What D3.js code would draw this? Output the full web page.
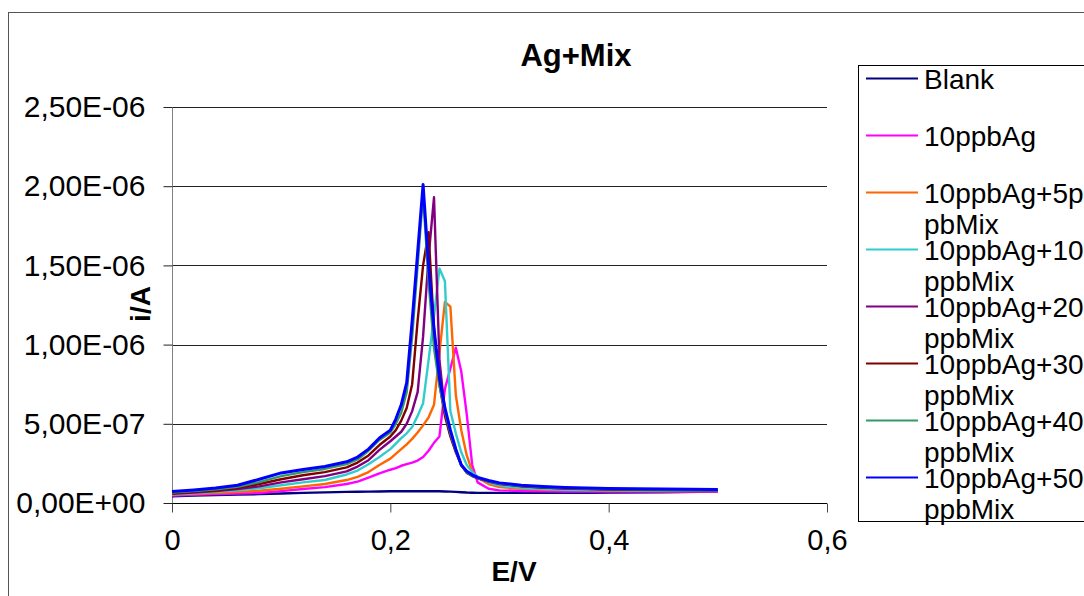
<!DOCTYPE html>
<html>
<head>
<meta charset="utf-8">
<script src="https://cdn.jsdelivr.net/npm/d3@7"></script>
<style>
  html, body { margin: 0; padding: 0; background: #fff; }
  svg { display: block; }
  text { font-family: "Liberation Sans", Arial, sans-serif; fill: #000; }
</style>
</head>
<body>
<svg id="chart" width="1084" height="596"></svg>
<script>
// Potential E/V (shared by every series)
const potentials = [0, 0.02, 0.04, 0.06, 0.08, 0.10, 0.12, 0.14, 0.16, 0.17, 0.18, 0.19, 0.20, 0.205, 0.21, 0.215, 0.22, 0.225, 0.23, 0.235, 0.24, 0.245, 0.25, 0.255, 0.26, 0.265, 0.27, 0.275, 0.28, 0.29, 0.30, 0.32, 0.34, 0.36, 0.38, 0.40, 0.45, 0.50];

// Currents i/A, expressed in units of 1e-7 A
const currentUnit = 1e-7;
const blank      = [0.43,0.47,0.5,0.53,0.56,0.6,0.64,0.67,0.7,0.71,0.72,0.73,0.74,0.74,0.74,0.74,0.74,0.74,0.74,0.74,0.74,0.74,0.73,0.72,0.7,0.68,0.66,0.65,0.64,0.64,0.64,0.64,0.64,0.64,0.65,0.66,0.68,0.72];
const ag10       = [0.47,0.52,0.56,0.6,0.63,0.75,0.88,1.0,1.2,1.35,1.6,1.87,2.1,2.2,2.35,2.45,2.55,2.68,2.9,3.3,3.8,4.2,7.2,8.5,9.8,8.3,5.6,2.4,1.3,0.9,0.8,0.76,0.74,0.73,0.72,0.72,0.72,0.72];
const ag10mix5   = [0.52,0.58,0.63,0.7,0.77,0.9,1.05,1.2,1.45,1.65,1.95,2.4,2.8,3.1,3.4,3.7,4.05,4.45,4.9,5.4,6.2,9.5,12.7,12.4,6.8,4.6,3.0,2.0,1.6,1.2,1.0,0.9,0.85,0.82,0.8,0.78,0.76,0.75];
const ag10mix10  = [0.55,0.62,0.7,0.8,0.93,1.12,1.3,1.45,1.8,2.05,2.45,2.9,3.4,3.75,4.1,4.4,4.8,5.5,6.3,9.0,11.8,14.8,14.0,5.8,4.4,3.2,2.4,1.95,1.65,1.3,1.1,0.95,0.88,0.84,0.82,0.8,0.78,0.77];
const ag10mix20  = [0.58,0.66,0.76,0.88,1.05,1.3,1.5,1.7,2.0,2.3,2.7,3.35,3.9,4.2,4.5,5.0,5.8,7.0,10.5,15.5,19.3,9.0,5.8,4.3,3.3,2.4,1.9,1.7,1.55,1.35,1.2,1.05,0.97,0.92,0.88,0.85,0.82,0.8];
const ag10mix30  = [0.62,0.7,0.8,0.95,1.2,1.5,1.75,1.95,2.25,2.55,3.0,3.66,4.2,4.6,5.2,6.0,7.5,11.5,15.0,17.1,11.0,7.5,5.5,4.2,3.2,2.4,1.95,1.72,1.58,1.38,1.22,1.07,0.98,0.93,0.89,0.86,0.83,0.81];
const ag10mix40  = [0.66,0.75,0.86,1.02,1.32,1.7,1.95,2.15,2.45,2.75,3.3,3.98,4.45,5.0,5.7,7.0,10.5,15.0,19.5,14.0,9.8,7.4,5.8,4.4,3.3,2.4,1.92,1.72,1.58,1.38,1.23,1.08,1.0,0.95,0.91,0.88,0.85,0.83];
const ag10mix50  = [0.72,0.82,0.95,1.12,1.5,1.9,2.12,2.3,2.6,2.9,3.4,4.1,4.6,5.3,6.2,7.6,11.5,15.8,20.1,15.0,11.0,7.9,6.0,4.6,3.4,2.4,2.0,1.78,1.62,1.42,1.27,1.12,1.04,0.98,0.94,0.91,0.88,0.86];

const seriesNames = ["Blank", "10ppbAg", "10ppbAg+5ppbMix", "10ppbAg+10ppbMix", "10ppbAg+20ppbMix", "10ppbAg+30ppbMix", "10ppbAg+40ppbMix", "10ppbAg+50ppbMix"];
const legendLines = [["Blank"], ["10ppbAg"], ["10ppbAg+5p", "pbMix"], ["10ppbAg+10", "ppbMix"], ["10ppbAg+20", "ppbMix"], ["10ppbAg+30", "ppbMix"], ["10ppbAg+40", "ppbMix"], ["10ppbAg+50", "ppbMix"]];
const seriesColors = ["#000080", "#FF00FF", "#FF6600", "#33CCCC", "#800080", "#800000", "#339966", "#0000FF"];
const seriesValues = [blank, ag10, ag10mix5, ag10mix10, ag10mix20, ag10mix30, ag10mix40, ag10mix50];

const xTicks = [0, 0.2, 0.4, 0.6];
const yTicks = [0, 5e-7, 1e-6, 1.5e-6, 2e-6, 2.5e-6];
const titleText = "Ag+Mix";
const xTitle = "E/V";
const yTitle = "i/A";

const svg = d3.select("#chart");
const plot = { left: 172, right: 827, top: 107, bottom: 503 };
const FS = 28;

const x = d3.scaleLinear().domain([0, 0.6]).range([plot.left, plot.right]);
const y = d3.scaleLinear().domain([0, 2.5e-6]).range([plot.bottom, plot.top]);

// outer chart border
svg.append("rect").attr("x", 8.5).attr("y", 12.5).attr("width", 1100).attr("height", 600)
  .attr("fill", "none").attr("stroke", "#555").attr("stroke-width", 1);

// title
svg.append("text").attr("x", 576).attr("y", 66).attr("text-anchor", "middle")
  .attr("font-size", 31).attr("font-weight", "bold").text(titleText);

// gridlines
svg.append("g").selectAll("line").data(yTicks.filter(d => d > 0)).join("line")
  .attr("x1", plot.left).attr("x2", plot.right)
  .attr("y1", d => Math.round(y(d)) + 0.5).attr("y2", d => Math.round(y(d)) + 0.5)
  .attr("stroke", "#222").attr("stroke-width", 1);

// y axis
const yAxis = d3.axisLeft(y).tickValues(yTicks).tickSize(9).tickPadding(18)
  .tickFormat(d => {
    const s = d.toExponential(2); // e.g. 2.50e-6
    const [m, e] = s.split("e");
    const sign = e[0] === "-" ? "-" : "+";
    const ex = String(Math.abs(+e)).padStart(2, "0");
    return m.replace(".", ",") + "E" + sign + ex;
  });
const gy = svg.append("g").attr("transform", `translate(${plot.left + 0.5},0)`).call(yAxis);
gy.select(".domain").attr("stroke", "#808080").attr("d", `M0,${plot.top}V${plot.bottom + 9}`);
gy.selectAll(".tick line").attr("stroke", "#222");
gy.selectAll(".tick text").attr("font-size", 30).attr("font-family", "Liberation Sans, Arial, sans-serif").attr("fill", "#000");

// x axis
const xAxis = d3.axisBottom(x).tickValues(xTicks).tickSize(9).tickPadding(17)
  .tickFormat(d => d === 0 ? "0" : String(d).replace(".", ","));
const gx = svg.append("g").attr("transform", `translate(0,${Math.round(plot.bottom) + 0.5})`).call(xAxis);
gx.select(".domain").attr("stroke", "#000").attr("d", `M${plot.left},0H${plot.right}`);
gx.selectAll(".tick line").attr("stroke", "#444");
gx.selectAll(".tick text").attr("font-size", 29).attr("font-family", "Liberation Sans, Arial, sans-serif").attr("fill", "#000");

// axis titles
svg.append("text").attr("x", 514).attr("y", 581).attr("text-anchor", "middle")
  .attr("font-size", FS).attr("font-weight", "bold").text(xTitle);
svg.append("text").attr("transform", "translate(150,304) rotate(-90)").attr("text-anchor", "middle")
  .attr("font-size", FS).attr("font-weight", "bold").text(yTitle);

// series
const line = d3.line().x(d => x(d[0])).y(d => y(d[1] * currentUnit));
const gs = svg.append("g");
seriesValues.forEach((vals, i) => {
  gs.append("path")
    .datum(potentials.map((p, k) => [p, vals[k]]))
    .attr("d", line)
    .attr("fill", "none")
    .attr("stroke", seriesColors[i])
    .attr("stroke-width", i === 7 ? 3 : 2.4)
    .attr("stroke-linejoin", "round");
});

// legend
const lg = svg.append("g");
lg.append("rect").attr("x", 858.5).attr("y", 65.5).attr("width", 300).attr("height", 456)
  .attr("fill", "#fff").attr("stroke", "#000").attr("stroke-width", 1);
const legendY = d3.scaleLinear().domain([0, 7]).range([78.5, 477.5]);
seriesNames.forEach((name, i) => {
  const ly = legendY(i);
  lg.append("line").attr("x1", 866).attr("x2", 918).attr("y1", ly).attr("y2", ly)
    .attr("stroke", seriesColors[i]).attr("stroke-width", 2.2);
  legendLines[i].forEach((t, j) => {
    lg.append("text").attr("x", 924).attr("y", ly + 10 + j * 31)
      .attr("font-size", FS).text(t);
  });
});
</script>
</body>
</html>
